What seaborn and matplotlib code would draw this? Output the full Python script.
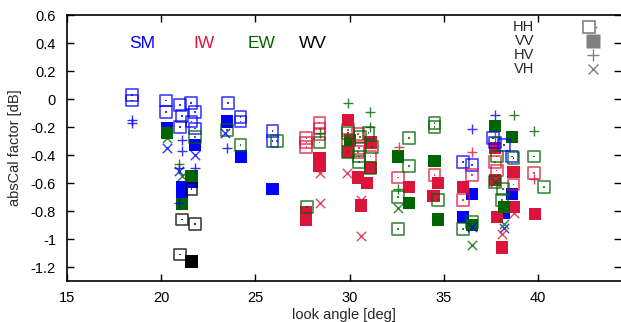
import numpy as np
import pandas as pd
import matplotlib
matplotlib.use("Agg")
import matplotlib.pyplot as plt
import seaborn as sns
from matplotlib.lines import Line2D
from matplotlib.legend_handler import HandlerTuple
from matplotlib.ticker import FuncFormatter

# ---------------- data ----------------
missions = ["SM", "IW", "EW", "WV"]
mission_colors = ["#0000ff", "#dc143c", "#006400", "#000000"]
pols = ["HH", "VV", "HV", "VH"]

# SM
sm_hh_x = [18.45, 18.45, 20.25, 20.25, 21.0, 21.1, 21.58, 21.8, 21.0, 21.6, 21.8, 23.55, 24.2, 24.2, 25.9, 25.9, 36.0, 36.5, 37.7, 38.2, 38.6, 37.6]
sm_hh_y = [0.03, -0.01, -0.01, -0.09, -0.04, -0.12, -0.03, -0.09, -0.20, -0.16, -0.21, -0.03, -0.13, -0.16, -0.23, -0.30, -0.45, -0.47, -0.31, -0.33, -0.41, -0.28]
sm_vv_x = [20.3, 21.8, 23.5, 24.25, 25.9, 21.1, 21.6, 21.1, 36.0, 36.5, 38.6, 38.2]
sm_vv_y = [-0.21, -0.33, -0.16, -0.41, -0.64, -0.63, -0.59, -0.70, -0.84, -0.68, -0.68, -0.81]
sm_hv_x = [18.45, 18.45, 21.1, 21.1, 21.8, 20.95, 23.5, 36.5, 37.7, 20.95]
sm_hv_y = [-0.15, -0.17, -0.29, -0.37, -0.49, -0.49, -0.35, -0.21, -0.11, -0.74]
sm_vh_x = [20.3, 21.8, 20.95, 23.4, 36.5, 38.2]
sm_vh_y = [-0.35, -0.40, -0.51, -0.24, -0.91, -0.92]

# IW
iw_hh_x = [27.7, 27.7, 27.7, 28.4, 28.4, 28.4, 29.9, 29.9, 30.45, 30.45, 30.5, 31.1, 32.55, 34.5, 36.5, 36.0, 37.7, 37.8, 38.7, 39.8]
iw_hh_y = [-0.28, -0.31, -0.34, -0.17, -0.21, -0.25, -0.22, -0.29, -0.25, -0.38, -0.35, -0.41, -0.56, -0.54, -0.54, -0.72, -0.45, -0.51, -0.61, -0.53]
iw_vv_x = [28.4, 28.4, 27.7, 27.7, 29.9, 29.9, 30.45, 30.9, 31.1, 31.1, 30.6, 33.15, 34.7, 34.45, 36.0, 37.7, 37.7, 38.7, 38.7, 37.8, 38.1, 39.85]
iw_vv_y = [-0.42, -0.48, -0.81, -0.86, -0.15, -0.38, -0.56, -0.60, -0.31, -0.49, -0.76, -0.63, -0.60, -0.69, -0.63, -0.35, -0.58, -0.52, -0.77, -0.84, -1.06, -0.82]
iw_hv_x = [32.6, 36.5, 39.8]
iw_hv_y = [-0.34, -0.38, -0.57]
iw_vh_x = [28.4, 28.4, 29.85, 30.6, 30.6, 38.1, 38.7]
iw_vh_y = [-0.53, -0.74, -0.53, -0.72, -0.98, -0.96, -0.81]

# EW
ew_hh_x = [21.8, 23.5, 24.2, 26.15, 28.4, 27.75, 29.9, 29.9, 30.55, 31.0, 31.2, 30.5, 30.5, 31.1, 33.15, 33.15, 32.55, 32.55, 34.5, 34.5, 34.7, 36.0, 36.5, 37.8, 38.7, 37.7, 38.15, 38.1, 39.8, 40.3]
ew_hh_y = [-0.27, -0.22, -0.33, -0.30, -0.31, -0.77, -0.24, -0.38, -0.27, -0.24, -0.34, -0.45, -0.41, -0.49, -0.28, -0.48, -0.70, -0.93, -0.17, -0.20, -0.72, -0.93, -0.88, -0.41, -0.42, -0.59, -0.64, -0.72, -0.41, -0.63]
ew_vv_x = [20.3, 21.6, 21.1, 30.0, 32.55, 33.15, 34.5, 34.7, 36.5, 37.7, 38.6, 38.2]
ew_vv_y = [-0.24, -0.55, -0.75, -0.29, -0.41, -0.74, -0.44, -0.86, -0.90, -0.19, -0.27, -0.77]
ew_hv_x = [29.9, 31.1, 31.1, 28.4, 32.55, 37.7, 38.7, 39.8, 20.95]
ew_hv_y = [-0.03, -0.09, -0.20, -0.24, -0.64, -0.27, -0.11, -0.23, -0.46]
ew_vh_x = [20.3, 21.1, 32.55, 36.5, 37.7, 38.2]
ew_vh_y = [-0.28, -0.55, -0.78, -1.04, -0.59, -0.89]

# WV
wv_hh_x = [21.6, 21.1, 21.8, 21.0]
wv_hh_y = [-0.64, -0.86, -0.89, -1.11]
wv_vv_x = [21.6]
wv_vv_y = [-1.16]

x_ticks = [15, 20, 25, 30, 35, 40]
y_ticks = [0.6, 0.4, 0.2, 0, -0.2, -0.4, -0.6, -0.8, -1, -1.2]

# ---------------- table ----------------
series = {
    ("SM", "HH"): (sm_hh_x, sm_hh_y), ("SM", "VV"): (sm_vv_x, sm_vv_y),
    ("SM", "HV"): (sm_hv_x, sm_hv_y), ("SM", "VH"): (sm_vh_x, sm_vh_y),
    ("IW", "HH"): (iw_hh_x, iw_hh_y), ("IW", "VV"): (iw_vv_x, iw_vv_y),
    ("IW", "HV"): (iw_hv_x, iw_hv_y), ("IW", "VH"): (iw_vh_x, iw_vh_y),
    ("EW", "HH"): (ew_hh_x, ew_hh_y), ("EW", "VV"): (ew_vv_x, ew_vv_y),
    ("EW", "HV"): (ew_hv_x, ew_hv_y), ("EW", "VH"): (ew_vh_x, ew_vh_y),
    ("WV", "HH"): (wv_hh_x, wv_hh_y), ("WV", "VV"): (wv_vv_x, wv_vv_y),
}
rows = []
for (m, p), (xs, ys) in series.items():
    for xv, yv in zip(xs, ys):
        rows.append({"mission": m, "pol": p, "angle": xv, "cal": yv})
df = pd.DataFrame(rows)

# ---------------- plot ----------------
sns.set_style("ticks")
plt.rcParams["font.family"] = ["Liberation Sans", "DejaVu Sans"]
plt.rcParams["axes.unicode_minus"] = False

fig = plt.figure(figsize=(6.21, 3.22), dpi=100)
ax = fig.add_axes([0.108, 0.127, 0.892, 0.826])

cmap = dict(zip(missions, mission_colors))
for m in missions:
    c = cmap[m]
    d = df[df.mission == m]
    hh = d[d.pol == "HH"]
    vv = d[d.pol == "VV"]
    hv = d[d.pol == "HV"]
    vh = d[d.pol == "VH"]
    if len(hh):
        sns.scatterplot(data=hh, x="angle", y="cal", ax=ax, marker="s", s=72,
                        color=c, facecolor="none", edgecolor=c, linewidth=1.2,
                        alpha=0.75, legend=False, zorder=3)
        sns.scatterplot(data=hh, x="angle", y="cal", ax=ax, marker="s", s=1.5,
                        color=c, edgecolor="none", linewidth=0, alpha=0.8,
                        legend=False, zorder=3)
    if len(vv):
        sns.scatterplot(data=vv, x="angle", y="cal", ax=ax, marker="s", s=78,
                        color=c, edgecolor="none", linewidth=0, alpha=1.0,
                        legend=False, zorder=2)
    if len(hv):
        sns.scatterplot(data=hv, x="angle", y="cal", ax=ax, marker="+", s=55,
                        color=c, linewidth=1.0, alpha=0.8, legend=False, zorder=4)
    if len(vh):
        sns.scatterplot(data=vh, x="angle", y="cal", ax=ax, marker="x", s=45,
                        color=c, linewidth=1.0, alpha=0.8, legend=False, zorder=4)

ax.set_xlim(15, 44.4)
ax.set_ylim(-1.3, 0.6)
ax.set_xticks(x_ticks)
ax.set_yticks(y_ticks)
ax.yaxis.set_major_formatter(FuncFormatter(lambda v, p: "%g" % round(v, 2)))
ax.tick_params(direction="in", length=5, width=1, top=True, right=True,
               labelsize=10.5, colors="black")
ax.tick_params(axis="y", pad=8)
ax.tick_params(axis="x", pad=7)
ax.set_xlabel("look angle [deg]", fontsize=10.5, labelpad=2)
ax.set_ylabel("absCal factor [dB]", fontsize=10.5, labelpad=6)
for side in ["left", "bottom", "top"]:
    ax.spines[side].set_linewidth(1.2)
    ax.spines[side].set_color("black")
ax.spines["right"].set_visible(False)

# mission labels
label_x = [19.0, 22.27, 25.3, 28.06]
for name, lx, c in zip(missions, label_x, mission_colors):
    ax.text(lx, 0.40, name, color=c, fontsize=12.5, ha="center", va="center")

# legend
g = "#808080"
h_hh = (Line2D([], [], marker="s", ls="none", ms=9, mfc="none", mec=g, mew=1.2),
        Line2D([], [], marker="s", ls="none", ms=1.2, mfc=g, mec="none"))
h_vv = Line2D([], [], marker="s", ls="none", ms=9.5, mfc=g, mec="none")
h_hv = Line2D([], [], marker="+", ls="none", ms=8, mec=g, mew=1.0)
h_vh = Line2D([], [], marker="x", ls="none", ms=7.5, mec=g, mew=1.0)
leg = ax.legend([h_hh, h_vv, h_hv, h_vh], pols,
                handler_map={tuple: HandlerTuple(ndivide=None, pad=0)},
                loc="upper left", bbox_to_anchor=(0.805, 0.98), frameon=False,
                markerfirst=False, labelspacing=0.0, handletextpad=3.5,
                handlelength=1.0, handleheight=0.5, fontsize=10.5,
                borderaxespad=0, borderpad=0)

fig.savefig("out.png", dpi=100)
